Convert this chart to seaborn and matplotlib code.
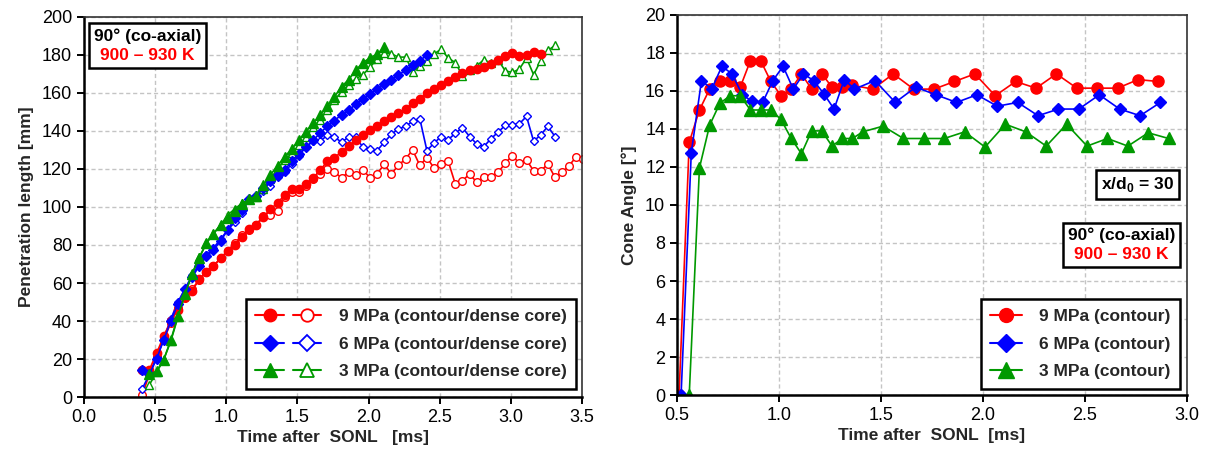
import matplotlib
matplotlib.use('Agg')
from matplotlib import pyplot as plt
from matplotlib.lines import Line2D
from matplotlib.legend_handler import HandlerTuple
from matplotlib.offsetbox import AnchoredOffsetbox, TextArea, VPacker
import seaborn as sns

# ---------------- left panel: penetration length [mm] ----------------
t_9_contour = [0.41, 0.46, 0.51, 0.56, 0.61, 0.66, 0.71, 0.76, 0.81, 0.86,
               0.91, 0.96, 1.01, 1.06, 1.11, 1.16, 1.21, 1.26, 1.31, 1.36,
               1.41, 1.46, 1.51, 1.56, 1.61, 1.66, 1.71, 1.76, 1.81, 1.86,
               1.91, 1.96, 2.01, 2.06, 2.11, 2.16, 2.21, 2.26, 2.31, 2.36,
               2.41, 2.46, 2.51, 2.56, 2.61, 2.66, 2.71, 2.76, 2.81, 2.86,
               2.91, 2.96, 3.01, 3.06, 3.11, 3.16, 3.21]
pen_9_contour = [14.4, 14.4, 23, 32, 40, 46, 52.5, 56, 62, 66,
                 69, 73, 77, 80, 84, 88.5, 90.5, 94.6, 99, 102,
                 106.5, 109.5, 109.5, 112.2, 115.4, 119.3, 124.2, 126, 129, 132,
                 135.2, 137.8, 140.5, 142.8, 145.4, 147.2, 149.6, 151.5, 154.9, 157,
                 160, 162, 164, 166.5, 168.5, 170.5, 172, 172.5, 173.5, 175.5,
                 177.5, 179.5, 181, 179.5, 180, 181.5, 180.5]

t_9_core = [0.41, 0.46, 0.51, 0.56, 0.61, 0.66, 0.71, 0.76, 0.81, 0.86,
            0.91, 0.96, 1.01, 1.06, 1.11, 1.16, 1.21, 1.26, 1.31, 1.36,
            1.41, 1.46, 1.51, 1.56, 1.61, 1.66, 1.71, 1.76, 1.81, 1.86,
            1.91, 1.96, 2.01, 2.06, 2.11, 2.16, 2.21, 2.26, 2.31, 2.36,
            2.41, 2.46, 2.51, 2.56, 2.61, 2.66, 2.71, 2.76, 2.81, 2.86,
            2.91, 2.96, 3.01, 3.06, 3.11, 3.16, 3.21, 3.26, 3.31, 3.36,
            3.41, 3.46, 3.51]
pen_9_core = [1.3, 12, 21, 30, 39, 47, 52, 57, 61.5, 66,
              69, 73, 77, 81, 85, 88, 90.5, 95.5, 96, 98,
              105, 108, 108, 111.3, 114.8, 117.5, 120.1, 118.3, 115.4, 118.3,
              117, 119.6, 115.4, 117.5, 122.4, 117.5, 121.9, 125.4, 130, 121.9,
              126, 120.5, 122.6, 124, 112, 113.8, 117.4, 113, 115.6, 116,
              118.2, 123, 127, 123, 124.8, 119, 119, 122.6, 115.6, 118.2,
              121.8, 126.5, 125]

t_6_contour = [0.41, 0.46, 0.51, 0.56, 0.61, 0.66, 0.71, 0.76, 0.81, 0.86,
               0.91, 0.96, 1.01, 1.06, 1.11, 1.16, 1.21, 1.26, 1.31, 1.36,
               1.41, 1.46, 1.51, 1.56, 1.61, 1.66, 1.71, 1.76, 1.81, 1.86,
               1.91, 1.96, 2.01, 2.06, 2.11, 2.16, 2.21, 2.26, 2.31, 2.36,
               2.41]
pen_6_contour = [14.4, 12, 20, 30, 40, 49, 57, 63, 69, 74,
                 77.5, 82, 88, 94, 98.5, 104, 106, 110, 113.5, 117,
                 119.5, 124, 128, 131.5, 135, 139, 142.5, 145.5, 148.5, 151,
                 154, 157, 159.5, 162, 164.5, 167, 169.5, 172, 174.5, 177,
                 180]

t_6_core = [0.41, 0.46, 0.51, 0.56, 0.61, 0.66, 0.71, 0.76, 0.81, 0.86,
            0.91, 0.96, 1.01, 1.06, 1.11, 1.16, 1.21, 1.26, 1.31, 1.36,
            1.41, 1.46, 1.51, 1.56, 1.61, 1.66, 1.71, 1.76, 1.81, 1.86,
            1.91, 1.96, 2.01, 2.06, 2.11, 2.16, 2.21, 2.26, 2.31, 2.36,
            2.41, 2.46, 2.51, 2.56, 2.61, 2.66, 2.71, 2.76, 2.81, 2.86,
            2.91, 2.96, 3.01, 3.06, 3.11, 3.16, 3.21, 3.26, 3.31]
pen_6_core = [4.4, 12, 21, 30.5, 41, 50, 57, 64, 70, 74.5,
              78.5, 83, 88, 92, 97, 104, 105.5, 108.5, 111.3, 115.7,
              118.3, 122.7, 127.1, 131.5, 134.7, 134.7, 137.7, 136.8, 134.1, 136.8,
              136.8, 131.5, 130.6, 129.7, 134.1, 138.2, 141.2, 142.4, 145.2, 146.5,
              129.7, 133.6, 137.1, 135.4, 138.9, 141.7, 137.1, 133.2, 131.8, 135.9,
              139.4, 142.9, 143.3, 143.8, 147.7, 134.6, 138, 142.4, 137.1]

t_3_contour = [0.46, 0.51, 0.56, 0.61, 0.66, 0.71, 0.76, 0.81, 0.86, 0.91,
               0.96, 1.01, 1.06, 1.11, 1.16, 1.21, 1.26, 1.31, 1.36, 1.41,
               1.46, 1.51, 1.56, 1.61, 1.66, 1.71, 1.76, 1.81, 1.86, 1.91,
               1.96, 2.01, 2.06, 2.11]
pen_3_contour = [12, 13.5, 19.6, 30, 42.5, 54, 65, 73, 81, 86,
                 90.5, 94, 98, 101.5, 104, 106, 111.6, 117, 121.6, 126.5,
                 130.4, 135.3, 139.7, 144, 148.5, 153, 158, 163.4, 167, 172,
                 176, 178.5, 180.5, 184]

t_3_core = [0.46, 0.51, 0.56, 0.61, 0.66, 0.71, 0.76, 0.81, 0.86, 0.91,
            0.96, 1.01, 1.06, 1.11, 1.16, 1.21, 1.26, 1.31, 1.36, 1.41,
            1.46, 1.51, 1.56, 1.61, 1.66, 1.71, 1.76, 1.81, 1.86, 1.91,
            1.96, 2.01, 2.06, 2.11, 2.16, 2.21, 2.26, 2.31, 2.36, 2.41,
            2.46, 2.51, 2.56, 2.61, 2.66, 2.71, 2.76, 2.81, 2.86, 2.91,
            2.96, 3.01, 3.06, 3.11, 3.16, 3.21, 3.26, 3.31]
pen_3_core = [6.5, 13, 19.6, 29.4, 42, 54, 65, 73.5, 81, 86,
              90.5, 95.8, 99, 102, 104, 105.2, 109.6, 114.8, 120.1, 124.5,
              128.4, 132.4, 136.8, 142.1, 145.9, 151.2, 156.5, 160.5, 164.4, 167.5,
              169.6, 173.6, 177.9, 181, 180.6, 178.9, 178.9, 171.3, 174, 176.6,
              180.6, 183, 178.4, 176, 169, 172.2, 174.3, 177.5, 175.7, 177.5,
              171.7, 170.8, 172.6, 178.4, 169.6, 177.1, 182.4, 185]

# ---------------- right panel: cone angle [deg] ----------------
t_9_angle = [0.51, 0.56, 0.61, 0.66, 0.71, 0.76, 0.81, 0.86, 0.91, 0.96,
             1.01, 1.06, 1.11, 1.16, 1.21, 1.26, 1.31, 1.36, 1.46, 1.56,
             1.66, 1.76, 1.86, 1.96, 2.06, 2.16, 2.26, 2.36, 2.46, 2.56,
             2.66, 2.76, 2.86]
angle_9 = [0, 13.3, 15.0, 16.1, 16.5, 16.5, 16.2, 17.6, 17.6, 16.5,
           15.75, 16.1, 16.9, 16.1, 16.9, 16.2, 16.2, 16.3, 16.1, 16.9,
           16.1, 16.1, 16.5, 16.9, 15.75, 16.5, 16.15, 16.9, 16.15, 16.15,
           16.15, 16.6, 16.5]

t_6_angle = [0.52, 0.57, 0.62, 0.67, 0.72, 0.77, 0.82, 0.87, 0.92, 0.97,
             1.02, 1.07, 1.12, 1.17, 1.22, 1.27, 1.32, 1.37, 1.47, 1.57,
             1.67, 1.77, 1.87, 1.97, 2.07, 2.17, 2.27, 2.37, 2.47, 2.57,
             2.67, 2.77, 2.87]
angle_6 = [0, 12.75, 16.55, 16.1, 17.3, 16.9, 15.8, 15.45, 15.4, 16.55,
           17.3, 16.1, 16.9, 16.55, 15.85, 15.05, 16.6, 16.1, 16.55, 15.4,
           16.2, 15.8, 15.4, 15.8, 15.2, 15.4, 14.7, 15.05, 15.05, 15.8,
           15.05, 14.7, 15.4]

t_3_angle = [0.56, 0.61, 0.66, 0.71, 0.76, 0.81, 0.86, 0.91, 0.96, 1.01,
             1.06, 1.11, 1.16, 1.21, 1.26, 1.31, 1.36, 1.41, 1.51, 1.61,
             1.71, 1.81, 1.91, 2.01, 2.11, 2.21, 2.31, 2.41, 2.51, 2.61,
             2.71, 2.81, 2.91]
angle_3 = [0, 11.95, 14.2, 15.35, 15.75, 15.75, 15.0, 15.0, 15.0, 14.5,
           13.5, 12.7, 13.9, 13.9, 13.1, 13.5, 13.5, 13.85, 14.15, 13.5,
           13.5, 13.5, 13.85, 13.05, 14.25, 13.85, 13.1, 14.25, 13.1, 13.5,
           13.1, 13.8, 13.5]

RED, BLUE, GREEN = '#ff0000', '#0000ff', '#009900'
FS = 12.5

sns.set_style('white')
plt.rcParams['font.family'] = ['Liberation Sans', 'DejaVu Sans']
plt.rcParams['mathtext.fontset'] = 'custom'
plt.rcParams['mathtext.bf'] = 'Liberation Sans:bold'
plt.rcParams['mathtext.rm'] = 'Liberation Sans:bold'

fig = plt.figure(figsize=(12.05, 4.58), dpi=100)
ax1 = fig.add_axes([84 / 1205, 61 / 458, 498 / 1205, 380 / 458])
ax2 = fig.add_axes([677 / 1205, 63 / 458, 510 / 1205, 380 / 458])


def draw(ax, x, y, color, marker, ms, filled=True):
    sns.lineplot(x=x, y=y, ax=ax, color=color, marker=marker, markersize=ms,
                 markerfacecolor=color if filled else 'white',
                 markeredgecolor=color, markeredgewidth=1.0, linewidth=1.2,
                 estimator=None, sort=False, legend=False, clip_on=True)


# left panel
draw(ax1, t_9_core, pen_9_core, RED, 'o', 5.5, filled=False)
draw(ax1, t_6_core, pen_6_core, BLUE, 'D', 4.5, filled=False)
draw(ax1, t_3_core, pen_3_core, GREEN, '^', 6, filled=False)
draw(ax1, t_9_contour, pen_9_contour, RED, 'o', 6)
draw(ax1, t_6_contour, pen_6_contour, BLUE, 'D', 4.8)
draw(ax1, t_3_contour, pen_3_contour, GREEN, '^', 6.5)

# right panel
draw(ax2, t_9_angle, angle_9, RED, 'o', 8)
draw(ax2, t_6_angle, angle_6, BLUE, 'D', 6.5)
draw(ax2, t_3_angle, angle_3, GREEN, '^', 8)

for ax in (ax1, ax2):
    ax.set_axisbelow(True)
    ax.grid(True, color='#c4c4c4', linestyle=(0, (3, 2)), linewidth=1.0)
    ax.tick_params(axis='both', direction='out', length=5, width=1.4,
                   labelsize=13, colors='black', top=False, right=False,
                   left=True, bottom=True)
    for side in ('left', 'bottom'):
        ax.spines[side].set_color('black')
        ax.spines[side].set_linewidth(1.8)
    for side in ('top', 'right'):
        ax.spines[side].set_color('#333333')
        ax.spines[side].set_linewidth(1.2)
        ax.spines[side].set_visible(True)

ax1.set_xlim(0, 3.5)
ax1.set_ylim(0, 200)
ax1.set_xticks([0.0, 0.5, 1.0, 1.5, 2.0, 2.5, 3.0, 3.5])
ax1.set_xticklabels(['0.0', '0.5', '1.0', '1.5', '2.0', '2.5', '3.0', '3.5'])
ax1.set_yticks(range(0, 201, 20))
ax1.set_xlabel('Time after  SONL   [ms]', fontsize=FS, fontweight='bold', labelpad=3)
ax1.set_ylabel('Penetration length [mm]', fontsize=FS, fontweight='bold', labelpad=6)

ax2.set_xlim(0.5, 3.0)
ax2.set_ylim(0, 20)
ax2.set_xticks([0.5, 1.0, 1.5, 2.0, 2.5, 3.0])
ax2.set_xticklabels(['0.5', '1.0', '1.5', '2.0', '2.5', '3.0'])
ax2.set_yticks(range(0, 21, 2))
ax2.set_xlabel('Time after  SONL  [ms]', fontsize=FS, fontweight='bold', labelpad=3)
ax2.set_ylabel('Cone Angle [°]', fontsize=FS, fontweight='bold', labelpad=6)

# legends
legend_labels_left = ['9 MPa (contour/dense core)', '6 MPa (contour/dense core)',
                      '3 MPa (contour/dense core)']
legend_labels_right = ['9 MPa (contour)', '6 MPa (contour)', '3 MPa (contour)']
styles = [(RED, 'o', 9), (BLUE, 'D', 8), (GREEN, '^', 10)]

handles_left = []
for c, m, s in styles:
    full = Line2D([], [], color=c, marker=m, markersize=s, markerfacecolor=c,
                  markeredgecolor=c, linewidth=1.5)
    hollow = Line2D([], [], color=c, marker=m, markersize=s, markerfacecolor='white',
                    markeredgecolor=c, markeredgewidth=1.3, linewidth=1.5)
    handles_left.append((full, hollow))

leg1 = ax1.legend(handles_left, legend_labels_left,
                  handler_map={tuple: HandlerTuple(ndivide=None, pad=0.5)},
                  loc='lower right', bbox_to_anchor=(0.988, 0.021), borderaxespad=0,
                  prop={'weight': 'bold', 'size': FS}, handlelength=3.8,
                  handletextpad=1.0, labelspacing=0.72, borderpad=0.55,
                  fancybox=False, framealpha=1, edgecolor='black')
leg1.get_frame().set_linewidth(1.8)

handles_right = [Line2D([], [], color=c, marker=m, markersize=s + 1, markerfacecolor=c,
                        markeredgecolor=c, linewidth=1.5) for c, m, s in styles]
leg2 = ax2.legend(handles_right, legend_labels_right,
                  loc='lower right', bbox_to_anchor=(0.986, 0.016), borderaxespad=0,
                  prop={'weight': 'bold', 'size': FS}, handlelength=1.8,
                  handletextpad=1.0, labelspacing=0.72, borderpad=0.55,
                  fancybox=False, framealpha=1, edgecolor='black')
leg2.get_frame().set_linewidth(1.8)


def info_box(ax, anchor, loc, lines):
    areas = [TextArea(txt, textprops=dict(color=col, fontsize=FS, fontweight='bold'))
             for txt, col in lines]
    pack = VPacker(children=areas, align='center', pad=0, sep=3)
    box = AnchoredOffsetbox(loc=loc, child=pack, pad=0.35, borderpad=0, frameon=True,
                            bbox_to_anchor=anchor, bbox_transform=ax.transAxes)
    box.patch.set_edgecolor('black')
    box.patch.set_linewidth(1.8)
    box.patch.set_boxstyle('square', pad=0)
    ax.add_artist(box)


info_box(ax1, (0.01, 0.984), 'upper left',
         [('90° (co-axial)', 'black'), ('900 – 930 K', RED)])
info_box(ax2, (0.986, 0.453), 'upper right',
         [('90° (co-axial)', 'black'), ('900 – 930 K', RED)])
info_box(ax2, (0.984, 0.592), 'upper right',
         [(r'x/d$_\mathbf{0}$ = 30', 'black')])

plt.savefig('out.png', dpi=100)
